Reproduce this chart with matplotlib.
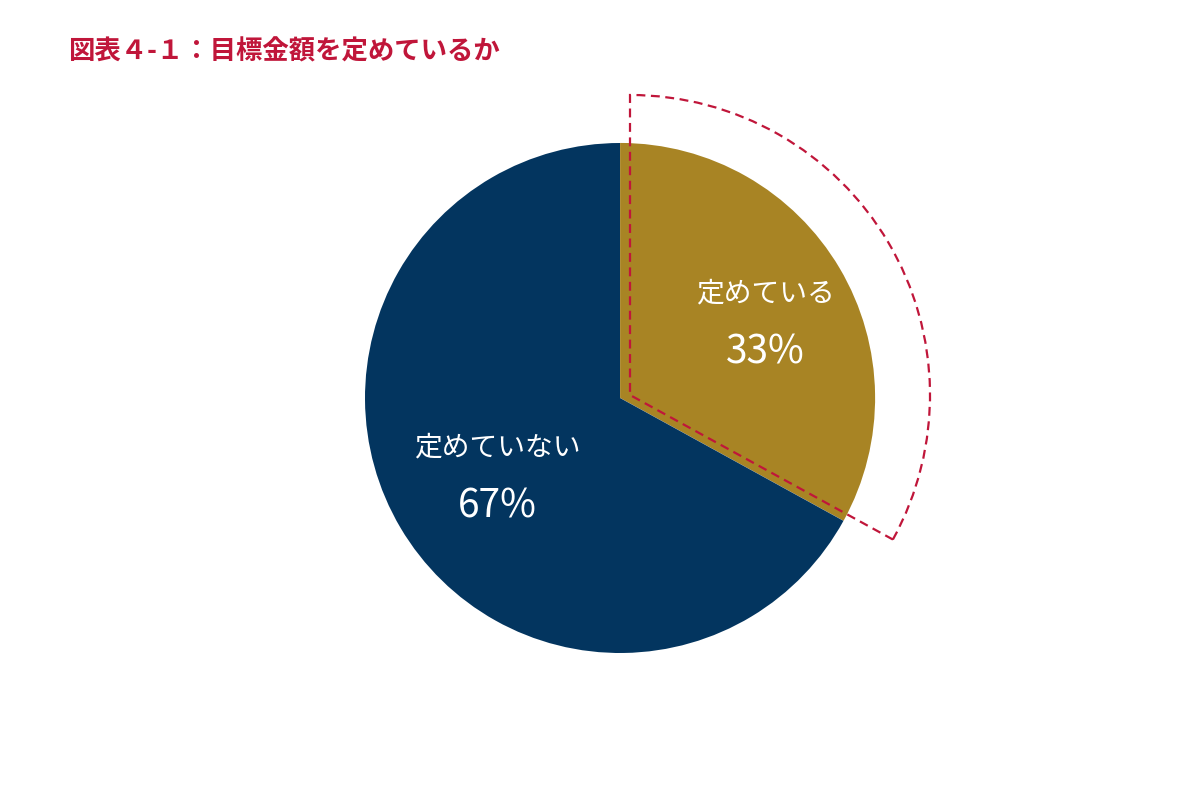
import matplotlib.pyplot as plt
from matplotlib.patches import Wedge

plt.rcParams['font.family'] = ['Noto Sans CJK JP', 'DejaVu Sans']

labels = ['定めている', '定めていない']
values = [33, 67]
colors = ['#A88424', '#03355F']
title = '図表４-１：目標金額を定めているか'

fig = plt.figure(figsize=(12, 8), dpi=100)
ax = fig.add_axes([0, 0, 1, 1])
ax.set_xlim(0, 1200)
ax.set_ylim(0, 800)
ax.set_aspect('equal')
ax.axis('off')

center = (620, 402)
radius = 255
wedges, _ = ax.pie(values, colors=colors, startangle=90, counterclock=False,
                   center=center, radius=radius, explode=[0.115, 0],
                   wedgeprops=dict(linewidth=0), frame=True)
ax.set_xlim(0, 1200)
ax.set_ylim(0, 800)
ax.axis('off')

# dashed outline around the highlighted slice
g = wedges[0]
outline = Wedge((630, 405), 300, g.theta1, g.theta2, fill=False,
                edgecolor='#C0163A', linestyle=(0, (4, 2.5)), linewidth=1.6)
ax.add_patch(outline)

ax.text(765, 800 - 293, labels[0], color='white', fontsize=20, ha='center', va='center')
ax.text(765, 800 - 352, f'{values[0]}%', color='white', fontsize=28, ha='center', va='center')
ax.text(497, 800 - 447, labels[1], color='white', fontsize=20, ha='center', va='center')
ax.text(497, 800 - 507, f'{values[1]}%', color='white', fontsize=28, ha='center', va='center')

fig.text(68 / 1200, 1 - 52 / 800, title, color='#C0163A', fontsize=19,
         fontweight='bold', ha='left', va='center')

fig.savefig('out.png', dpi=100)
